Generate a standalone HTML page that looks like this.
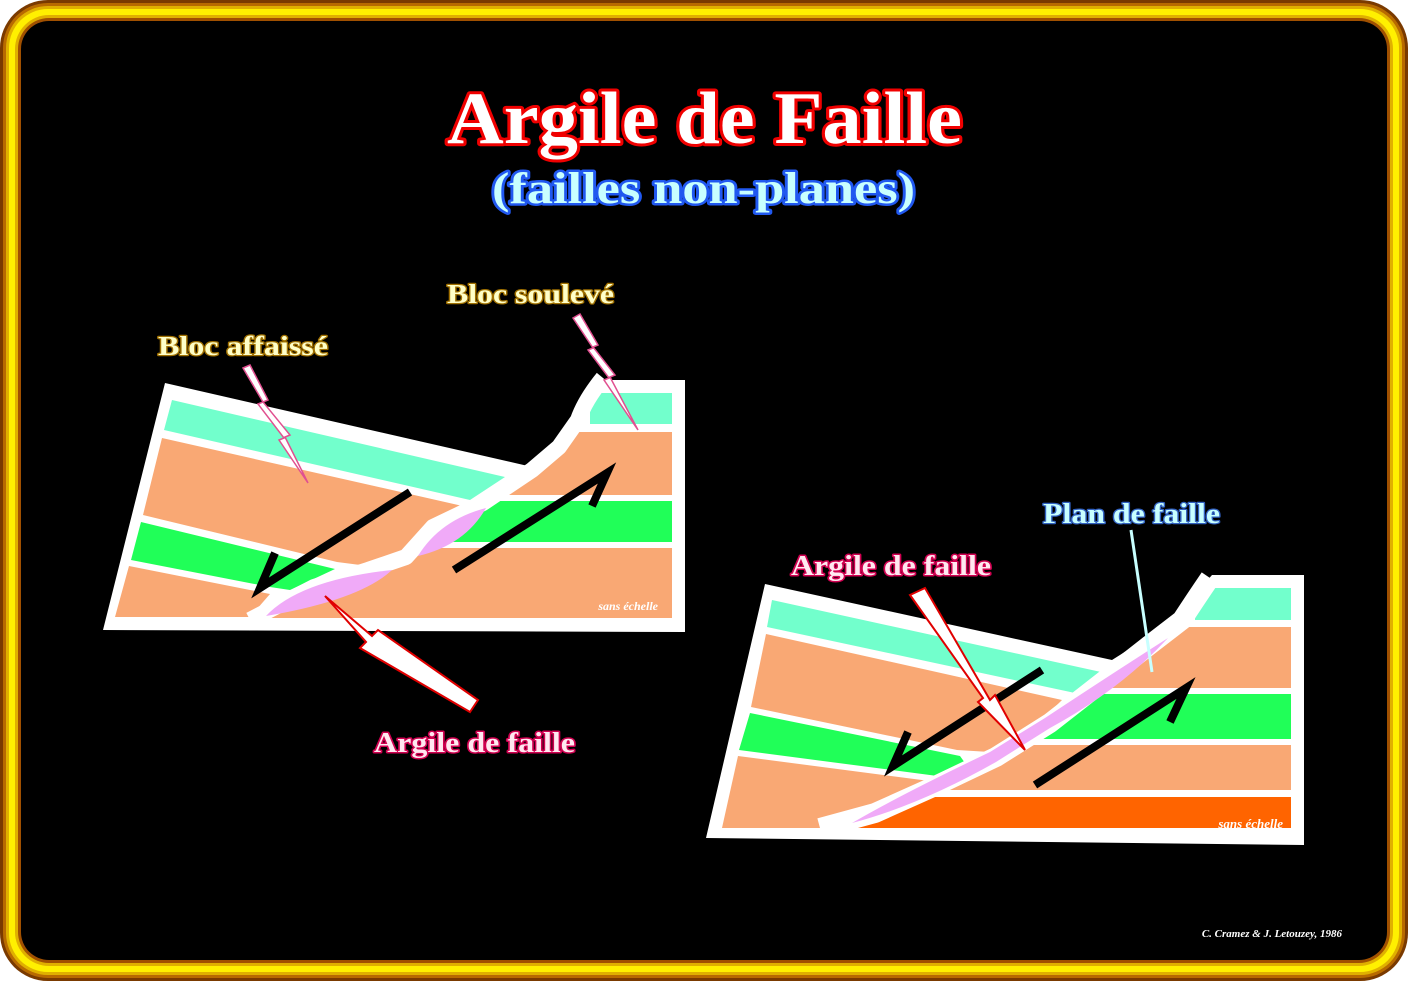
<!DOCTYPE html>
<html><head><meta charset="utf-8"><style>
html,body{margin:0;padding:0;background:#fff;}
svg{display:block}
text{font-family:"Liberation Serif",serif;font-weight:bold;paint-order:stroke;stroke-linejoin:round}
</style></head><body>
<svg width="1408" height="981" viewBox="0 0 1408 981" xmlns="http://www.w3.org/2000/svg">
<defs>
<clipPath id="rb"><path d="M620,370 L601,380 Q585,400 578,420 L559,447 L532,470 L483,503 L433,527 L406,557 L368,570 L314,587 L255,620 L700,640 L700,370 Z"/></clipPath>
<clipPath id="rb2"><path d="M1215,560 L1206,577 Q1195,600 1182,620 L1147,647 L1105,680 L1050,723 L996,757 L933,787 L875,813 L828,827 L820,850 L1320,850 L1320,560 Z"/></clipPath>
</defs>
<!-- frame -->
<rect x="0" y="0" width="1408" height="981" rx="48" fill="#7a3a00"/>
<rect x="3" y="3" width="1402" height="975" rx="45" fill="#b86a00"/>
<rect x="6" y="6" width="1396" height="969" rx="42" fill="#e0b000"/>
<rect x="9" y="9" width="1390" height="963" rx="39" fill="#fff000"/>
<rect x="15" y="15" width="1378" height="951" rx="34" fill="#e0b000"/>
<rect x="18" y="18" width="1372" height="945" rx="31" fill="#a05000"/>
<rect x="21" y="21" width="1366" height="939" rx="28" fill="#000"/>

<text x="447" y="143" font-size="74" textLength="515" lengthAdjust="spacingAndGlyphs" fill="#fff" stroke="#f00000" stroke-width="6">Argile de Faille</text>
<text x="492" y="203" font-size="44" textLength="423" lengthAdjust="spacingAndGlyphs" fill="#c8ffff" stroke="#2058f0" stroke-width="5">(failles non-planes)</text>

<!-- LEFT DIAGRAM -->
<path d="M103,630 L165,383 L528,466 Q560,440 575,420 Q590,390 600,380 L685,380 L685,632 Z" fill="#fff"/>
<polygon points="172,400 505,477 470,500 164,430" fill="#72ffcc"/>
<polygon points="162,438 467,507 433,527 406,557 368,566 337,562 143,515" fill="#f9a874"/>
<polygon points="141,522 335,569 290,590 270,587 131,560" fill="#20ff58"/>
<polygon points="129,566 270,594 250,617 115,617" fill="#f9a874"/>
<g clip-path="url(#rb)">
 <rect x="590" y="393" width="82" height="31" fill="#72ffcc"/>
 <rect x="400" y="432" width="272" height="63" fill="#f9a874"/>
 <rect x="400" y="501" width="272" height="41" fill="#20ff58"/>
 <rect x="240" y="548" width="432" height="70" fill="#f9a874"/>
</g>
<path d="M603,378 Q585,400 578,420 L559,447 L532,470 L483,503 L433,527 L406,557 L368,570 L314,587 L250,620" fill="none" stroke="#fff" stroke-width="16" stroke-linejoin="round"/>
<path d="M418,556 Q440,520 486,508 Q465,545 418,556 Z" fill="#f0aaf8"/>
<path d="M266,616 Q300,580 392,570 Q360,600 266,616 Z" fill="#f0aaf8"/>
<text x="658" y="610" font-size="12" font-style="italic" font-weight="normal" text-anchor="end" fill="#fff">sans échelle</text>
<g stroke="#000" stroke-width="8" fill="none">
 <path d="M410,492 L260,588 L275,553"/>
 <path d="M454,570 L607,473 L592,506"/>
</g>
<polygon points="243,368 250,365 268,400 263,402 290,435 285,437 308,483 279,440 284,438 258,404 263,402" fill="#fff" stroke="#e05090" stroke-width="1.5"/>
<polygon points="573,318 580,314 598,345 593,347 615,375 610,377 638,430 604,380 609,378 588,350 593,348" fill="#fff" stroke="#e05090" stroke-width="1.5"/>
<polygon points="470,712 478,700 378,630 372,636 325,596 366,642 360,648" fill="#fff" stroke="#e00000" stroke-width="2"/>

<text x="158" y="355" font-size="27" textLength="170" lengthAdjust="spacingAndGlyphs" fill="#ffffc8" stroke="#a07000" stroke-width="2.5">Bloc affaissé</text>
<text x="447" y="303" font-size="27" textLength="167" lengthAdjust="spacingAndGlyphs" fill="#ffffc8" stroke="#a07000" stroke-width="2.5">Bloc soulevé</text>
<text x="374" y="752" font-size="28" textLength="201" lengthAdjust="spacingAndGlyphs" fill="#ffe8f0" stroke="#d00050" stroke-width="3">Argile de faille</text>

<!-- RIGHT DIAGRAM -->
<path d="M706,838 L765,584 L1112,660 Q1160,630 1190,600 L1212,575 L1304,575 L1304,845 Z" fill="#fff"/>
<polygon points="772,600 1101,672 1075,693 767,627" fill="#72ffcc"/>
<polygon points="766,634 1062,700 1040,722 990,752 957,750 751,707" fill="#f9a874"/>
<polygon points="750,713 960,756 970,770 945,777 739,750" fill="#20ff58"/>
<polygon points="738,756 945,783 933,790 875,813 830,828 722,828" fill="#f9a874"/>
<g clip-path="url(#rb2)">
 <rect x="1195" y="588" width="96" height="32" fill="#72ffcc"/>
 <rect x="1000" y="627" width="291" height="61" fill="#f9a874"/>
 <rect x="1000" y="694" width="291" height="45" fill="#20ff58"/>
 <rect x="900" y="745" width="391" height="45" fill="#f9a874"/>
 <rect x="850" y="797" width="441" height="31" fill="#ff6400"/>
</g>
<path d="M1210,578 Q1195,600 1182,620 L1147,647 L1105,680 L1050,723 L996,757 L933,787 L875,813 L820,828" fill="none" stroke="#fff" stroke-width="20" stroke-linejoin="round"/>
<path d="M1168,638 Q1120,690 1050,728 L996,762 Q920,805 852,823 Q900,795 990,752 L1045,718 Q1110,675 1168,638 Z" fill="#f0aaf8"/>
<text x="1283" y="828" font-size="13" font-style="italic" font-weight="normal" text-anchor="end" fill="#fff">sans échelle</text>
<g stroke="#000" stroke-width="8" fill="none">
 <path d="M1042,670 L893,766 L908,732"/>
 <path d="M1035,785 L1186,688 L1170,722"/>
</g>
<polygon points="910,595 925,588 990,700 995,695 1025,750 978,702 983,698" fill="#fff" stroke="#e00000" stroke-width="2"/>
<line x1="1131" y1="530" x2="1152" y2="672" stroke="#c8ffff" stroke-width="3"/>

<text x="791" y="575" font-size="28" textLength="200" lengthAdjust="spacingAndGlyphs" fill="#ffe8f0" stroke="#d00050" stroke-width="3">Argile de faille</text>
<text x="1043" y="523" font-size="28" textLength="177" lengthAdjust="spacingAndGlyphs" fill="#c8ffff" stroke="#3060c0" stroke-width="2.5">Plan de faille</text>

<text x="1342" y="937" font-size="11" font-style="italic" text-anchor="end" fill="#fff">C. Cramez &amp; J. Letouzey, 1986</text>
</svg>
</body></html>
